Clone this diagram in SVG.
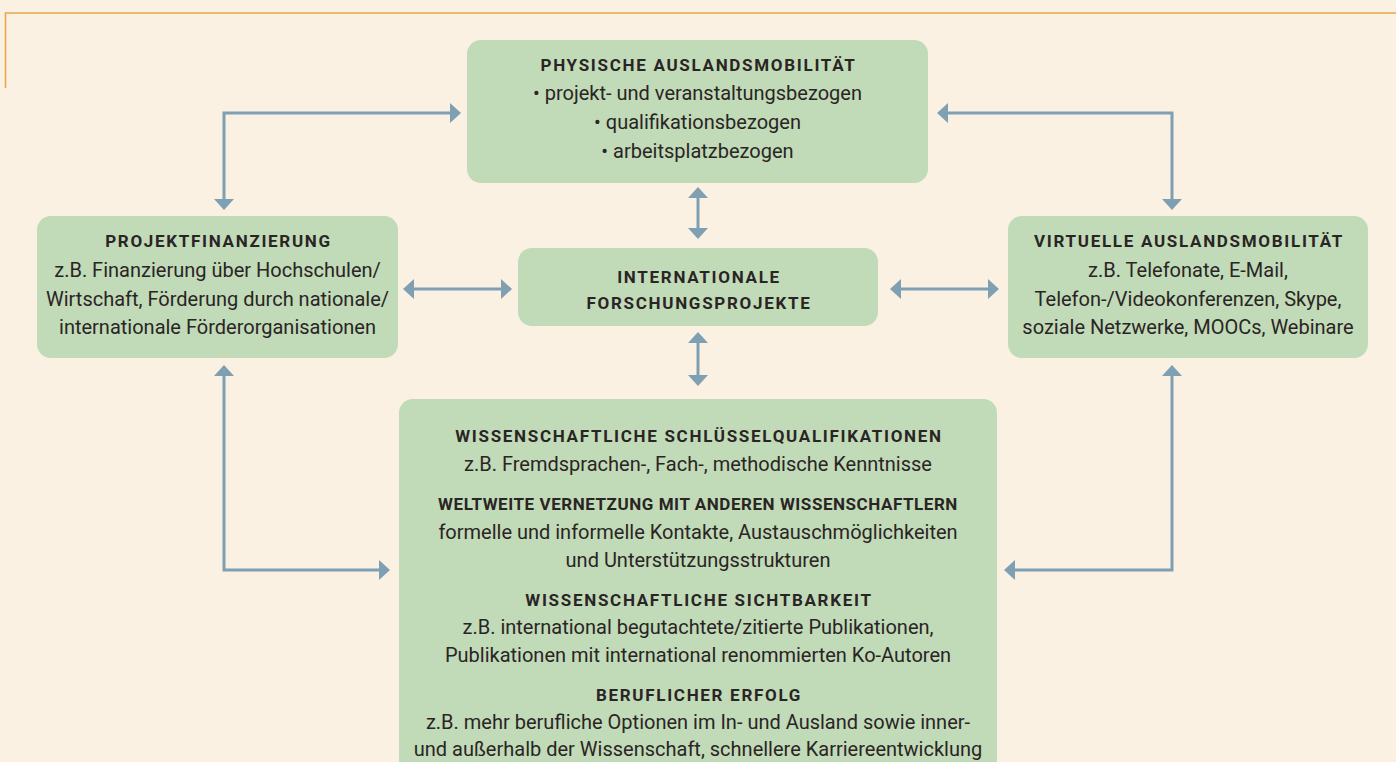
<svg xmlns="http://www.w3.org/2000/svg" width="1396" height="762" viewBox="0 0 1396 762">
<style>
.box{fill:#C1DAB8}
.t{font-family:Roboto,"Liberation Sans",sans-serif;fill:#2A2524;text-anchor:middle}
.h{font-size:17px;font-weight:bold;letter-spacing:1.7px}
.h2{font-size:17px;font-weight:bold;letter-spacing:0.55px}
.b{font-size:20px}
.c{fill:none;stroke:#7F9FB3;stroke-width:3}
</style>
<defs>
<marker id="ah" viewBox="0 0 11 20" refX="5" refY="10" markerWidth="11" markerHeight="20" markerUnits="userSpaceOnUse" orient="auto-start-reverse">
<path d="M0,0 L11,10 L0,20 Z" fill="#7F9FB3"/>
</marker>
</defs>
<rect width="1396" height="762" fill="#FBF1E2"/>
<path d="M5.5,88 L5.5,13 L1396,13" fill="none" stroke="#E8A748" stroke-width="1.6"/>

<g id="connectors">
<path class="c" d="M224,204 L224,113 L455,113" marker-start="url(#ah)" marker-end="url(#ah)"/>
<path class="c" d="M1172,204 L1172,113 L943,113" marker-start="url(#ah)" marker-end="url(#ah)"/>
<path class="c" d="M698,193 L698,233" marker-start="url(#ah)" marker-end="url(#ah)"/>
<path class="c" d="M698,338 L698,380" marker-start="url(#ah)" marker-end="url(#ah)"/>
<path class="c" d="M409,289 L506,289" marker-start="url(#ah)" marker-end="url(#ah)"/>
<path class="c" d="M896,289 L993,289" marker-start="url(#ah)" marker-end="url(#ah)"/>
<path class="c" d="M224,371 L224,570 L384,570" marker-start="url(#ah)" marker-end="url(#ah)"/>
<path class="c" d="M1172,371 L1172,570 L1010,570" marker-start="url(#ah)" marker-end="url(#ah)"/>
</g>

<g id="physische">
<rect class="box" x="467" y="40" width="461" height="143" rx="14"/>
<text class="t h" x="698.5" y="71">PHYSISCHE AUSLANDSMOBILITÄT</text>
<text class="t b" x="697.5" y="100">• projekt- und veranstaltungsbezogen</text>
<text class="t b" x="697.5" y="129">• qualifikationsbezogen</text>
<text class="t b" x="697.5" y="158">• arbeitsplatzbezogen</text>
</g>

<g id="projektfinanzierung">
<rect class="box" x="37" y="216" width="361" height="142" rx="14"/>
<text class="t h" x="218.5" y="247">PROJEKTFINANZIERUNG</text>
<text class="t b" x="217.5" y="277">z.B. Finanzierung über Hochschulen/</text>
<text class="t b" x="217.5" y="306">Wirtschaft, Förderung durch nationale/</text>
<text class="t b" x="217.5" y="334">internationale Förderorganisationen</text>
</g>

<g id="virtuelle">
<rect class="box" x="1008" y="216" width="360" height="142" rx="14"/>
<text class="t h" x="1189" y="247">VIRTUELLE AUSLANDSMOBILITÄT</text>
<text class="t b" x="1188" y="277">z.B. Telefonate, E-Mail,</text>
<text class="t b" x="1188" y="306">Telefon-/Videokonferenzen, Skype,</text>
<text class="t b" x="1188" y="334">soziale Netzwerke, MOOCs, Webinare</text>
</g>

<g id="forschungsprojekte">
<rect class="box" x="518" y="248" width="360" height="78" rx="14"/>
<text class="t h" x="699" y="283">INTERNATIONALE</text>
<text class="t h" x="699" y="309">FORSCHUNGSPROJEKTE</text>
</g>

<g id="wirkungen">
<rect class="box" x="399" y="399" width="598" height="380" rx="14"/>
<text class="t h" x="699" y="442">WISSENSCHAFTLICHE SCHLÜSSELQUALIFIKATIONEN</text>
<text class="t b" x="698" y="470.5">z.B. Fremdsprachen-, Fach-, methodische Kenntnisse</text>
<text class="t h2" x="698" y="510">WELTWEITE VERNETZUNG MIT ANDEREN WISSENSCHAFTLERN</text>
<text class="t b" x="698" y="538.5">formelle und informelle Kontakte, Austauschmöglichkeiten</text>
<text class="t b" x="698" y="567">und Unterstützungsstrukturen</text>
<text class="t h" x="699" y="606">WISSENSCHAFTLICHE SICHTBARKEIT</text>
<text class="t b" x="698" y="634">z.B. international begutachtete/zitierte Publikationen,</text>
<text class="t b" x="698" y="662">Publikationen mit international renommierten Ko-Autoren</text>
<text class="t h" x="699" y="701">BERUFLICHER ERFOLG</text>
<text class="t b" x="698" y="729">z.B. mehr berufliche Optionen im In- und Ausland sowie inner-</text>
<text class="t b" x="698" y="756">und außerhalb der Wissenschaft, schnellere Karriereentwicklung</text>
</g>
</svg>
